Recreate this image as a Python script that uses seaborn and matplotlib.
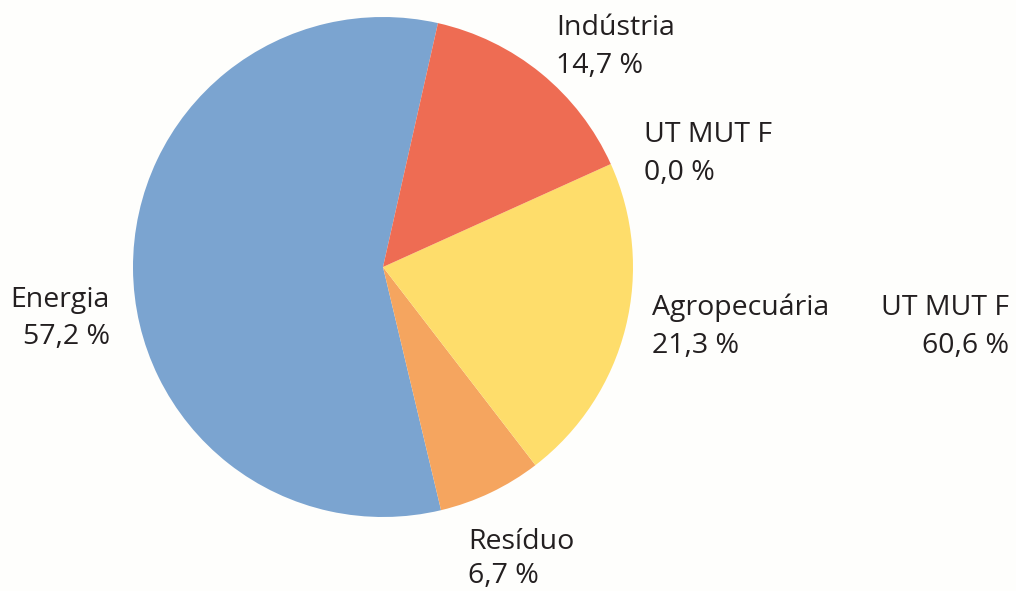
import matplotlib
matplotlib.use("Agg")
import matplotlib.pyplot as plt
import seaborn as sns

# Data
categories = ["Energia", "Resíduo", "Agropecuária", "UT MUT F", "Indústria"]
values = [57.2, 6.7, 21.3, 0.0, 14.7]
value_labels = ["57,2 %", "6,7 %", "21,3 %", "0,0 %", "14,7 %"]
extra_category = "UT MUT F"
extra_label = "60,6 %"

colors = ["#7BA4D0", "#F5A55F", "#FEDD6B", "#EE6C53", "#EE6C53"]

sns.set_theme(style="white")
plt.rcParams["font.family"] = ["Open Sans", "DejaVu Sans"]

W, H = 1016, 591
fig = plt.figure(figsize=(W / 100, H / 100), dpi=100, facecolor="#FEFEFC")
ax = fig.add_axes([0, 0, 1, 1])
ax.set_facecolor("#FEFEFC")

palette = sns.color_palette(colors)
ax.pie(values, colors=palette, startangle=77.3, counterclock=True,
       center=(383, H - 267), radius=250,
       wedgeprops=dict(linewidth=0))
ax.set_xlim(0, W)
ax.set_ylim(0, H)
ax.set_aspect("equal")
ax.axis("off")

txt_color = "#231F20"
fs = 20.5
# label placement: (x, name baseline y, value baseline y, ha) in pixels
placement = {
    "Energia": (110, 307, 344, "right"),
    "Resíduo": (468, 549, 583, "left"),
    "Agropecuária": (652, 315, 353, "left"),
    "UT MUT F": (644, 142, 180, "left"),
    "Indústria": (556, 35, 73, "left"),
}
for cat, lab in zip(categories, value_labels):
    x, y1, y2, ha = placement[cat]
    ax.text(x, H - y1, cat, ha=ha, va="baseline", fontsize=fs, color=txt_color)
    ax.text(x, H - y2, lab, ha=ha, va="baseline", fontsize=fs, color=txt_color)

ax.text(1009, H - 315, extra_category, ha="right", va="baseline", fontsize=fs, color=txt_color)
ax.text(1009, H - 353, extra_label, ha="right", va="baseline", fontsize=fs, color=txt_color)

fig.savefig("out.png", dpi=100, facecolor=fig.get_facecolor())
